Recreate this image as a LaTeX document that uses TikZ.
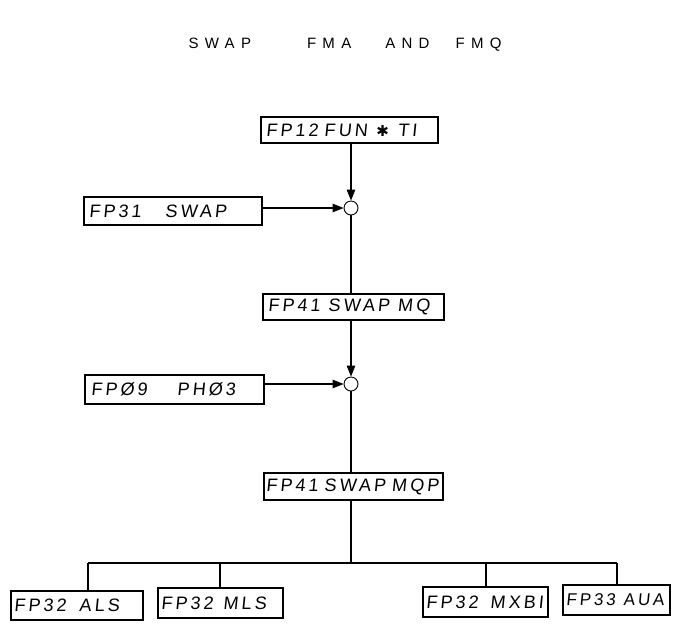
\documentclass[tikz,border=0pt]{standalone}
\usepackage{fontspec}
\usetikzlibrary{arrows.meta}
\newfontfamily\handbox[FakeSlant=0.1,LetterSpace=17]{Liberation Sans}
\newfontfamily\handtitle[LetterSpace=42]{Liberation Sans}
\newfontfamily\symfont{DejaVu Sans}
\begin{document}
\begin{tikzpicture}[x=1pt,y=-1pt,
  box/.style={draw,line width=1.2pt,inner xsep=5pt,inner ysep=0pt,align=left,
    font=\handbox\fontsize{18}{18}\selectfont},
  jn/.style={draw,circle,line width=0.9pt,minimum size=14pt,inner sep=0pt},
  ln/.style={line width=1.1pt},
  ar/.style={line width=1.1pt,-{Triangle[length=11pt,width=8.5pt]}}]
\useasboundingbox (0,0) rectangle (687,625);
\node[font=\handtitle\fontsize{15}{15}\selectfont] (title) at (345,45) {SWAP\hspace{56pt}FMA\hspace{34pt}AND\hspace{26pt}FMQ};
\node[box,text width=167pt,minimum height=26pt] (fp12) at (349.5,130) {FP12 FUN\hspace{9pt}{\symfont\fontsize{15}{15}\selectfont ✱}\hspace{9pt}TI};
\node[jn] (c1) at (351,208) {};
\node[box,text width=168pt,minimum height=28pt] (fp31) at (173,211) {FP31\hspace{24pt}SWAP};
\node[box,text width=171pt,minimum height=26pt] (mq) at (353.5,307) {FP41\hspace{8pt}SWAP\hspace{8pt}MQ};
\node[jn] (c2) at (351,384) {};
\node[box,text width=167pt,inner xsep=6pt,minimum height=29pt] (fp09) at (174.5,389.5) {FPØ9\hspace{30pt}PHØ3};
\node[box,text width=175pt,inner xsep=2pt,minimum height=27pt] (mqp) at (353.5,486.5) {FP41 SWAP MQP};
\node[box,text width=126pt,inner xsep=3pt,minimum height=29pt] (als) at (77,605.5) {FP32\hspace{13pt}ALS};
\node[box,text width=119pt,inner xsep=3pt,minimum height=30pt] (mls) at (220.5,603) {FP32\hspace{10pt}MLS};
\node[box,text width=119pt,inner xsep=3pt,minimum height=30pt] (mxb) at (485.5,602) {FP32\hspace{12pt}MXBI};
\node[box,text width=101pt,inner xsep=3pt,minimum height=30pt,font=\handbox\fontsize{17}{17}\selectfont] (aua) at (616.5,600) {FP33\hspace{8pt}AUA};
\coordinate (bus) at (351,563);
\coordinate (bl) at (88,563);
\coordinate (bml) at (220,563);
\coordinate (bmr) at (486,563);
\coordinate (br) at (617,563);
\draw[ar] (fp12.south -| c1) -- (c1.north);
\draw[ar] (fp31.east |- c1) -- (c1.west);
\draw[ln] (c1.south) -- (mq.north -| c1);
\draw[ar] (mq.south -| c2) -- (c2.north);
\draw[ar] (fp09.east |- c2) -- (c2.west);
\draw[ln] (c2.south) -- (mqp.north -| c2);
\draw[ln] (mqp.south -| bus) -- (bus);
\draw[ln] (bl) -- (br);
\draw[ln] (bl) -- (bl |- als.north);
\draw[ln] (bml) -- (bml |- mls.north);
\draw[ln] (bmr) -- (bmr |- mxb.north);
\draw[ln] (br) -- (br |- aua.north);
\end{tikzpicture}
\end{document}
